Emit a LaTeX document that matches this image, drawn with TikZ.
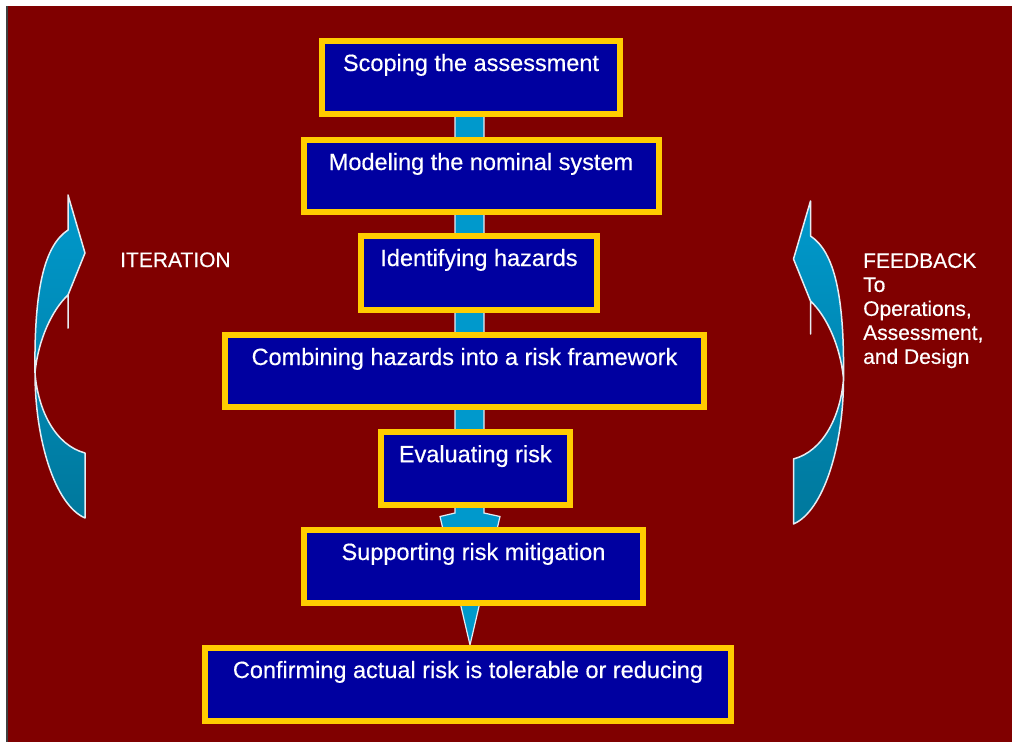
\documentclass[tikz,border=0pt]{standalone}
\usepackage{fontspec}
\setmainfont{Liberation Sans}[FakeBold=0.4]
\newfontfamily\slidefont{Liberation Sans}[FakeBold=0.4]

\definecolor{slidered}{HTML}{800000}
\definecolor{boxblue}{HTML}{0000A0}
\definecolor{boxgold}{HTML}{FFCC00}
\definecolor{flowcyan}{HTML}{0099CC}
\definecolor{flowdark}{HTML}{00789C}
\definecolor{rimwhite}{HTML}{E6ECF2}
\definecolor{edgegrey}{HTML}{404040}

\tikzset{
  stepbox/.style={rectangle, draw=boxgold, line width=6pt, fill=boxblue,
    text=white, inner sep=0pt, text height=30pt,
    font=\slidefont\fontsize{23.5}{28}\selectfont},
  sidetext/.style={text=white, inner sep=0pt,
    font=\slidefont\fontsize{21}{24}\selectfont},
  flowarrow/.style={fill=flowcyan, draw=rimwhite, line width=1.2pt,
    line join=miter},
  % curved band arrow, tip at the origin, pointing up
  bandarrow/.pic={
    \draw[top color=flowcyan, bottom color=flowdark, draw=rimwhite,
          line width=1.5pt, line join=round]
      (0,0) -- (17,58) -- (0,100) -- (0,133) -- (0,100)
      .. controls (-16,115) and (-30,145) .. (-33,178)
      .. controls (-30,215) and (-13,250) .. (17,258)
      -- (17,323)
      .. controls (-13,310) and (-33,245) .. (-33,178)
      .. controls (-34,95) and (-24,51) .. (0,35)
      -- cycle;
  }
}

\begin{document}
\begin{tikzpicture}[x=1pt, y=-1pt]
  \useasboundingbox (0,0) rectangle (1012,742);

  % slide background
  \fill[white] (0,0) rectangle (1012,742);
  \fill[slidered] (8,6) rectangle (1012,742);
  \draw[edgegrey, line width=1.5pt] (7,6) -- (7,742);

  % central downward flow arrow behind the steps
  \coordinate (tip) at (470,645);
  \draw[flowarrow] (455,100) -- (455,513) -- (440,516.5) -- (tip)
    -- (500,516.5) -- (484,513) -- (484,100) -- cycle;

  % process steps
  \node[stepbox, minimum width=298pt, text depth=43pt] (scope)    at (471,77.5)  {Scoping the assessment};
  \node[stepbox, minimum width=355pt, text depth=42pt] (model)    at (481,176)   {Modeling the nominal system};
  \node[stepbox, minimum width=236pt, text depth=44pt] (hazards)  at (479,273)   {Identifying hazards};
  \node[stepbox, minimum width=479pt, text depth=42pt] (combine)  at (464.5,371) {Combining hazards into a risk framework};
  \node[stepbox, minimum width=189pt, text depth=43pt] (evaluate) at (475.3,468.7) {Evaluating risk};
  \node[stepbox, minimum width=339pt, text depth=43pt] (mitigate) at (473.5,566.5) {Supporting risk mitigation};
  \node[stepbox, minimum width=526pt, text depth=43pt] (confirm)  at (468,684.5) {Confirming actual risk is tolerable or reducing};

  % side arrows and captions
  \pic at (68,195) {bandarrow};
  \pic[xscale=-1] at (810.5,201) {bandarrow};

  \node[sidetext, anchor=base west] (iteration) at (120,267) {ITERATION};
  \node[sidetext, anchor=north west, align=left] (feedback) at (863,253)
    {FEEDBACK\\To\\Operations,\\Assessment,\\and Design};
\end{tikzpicture}
\end{document}
